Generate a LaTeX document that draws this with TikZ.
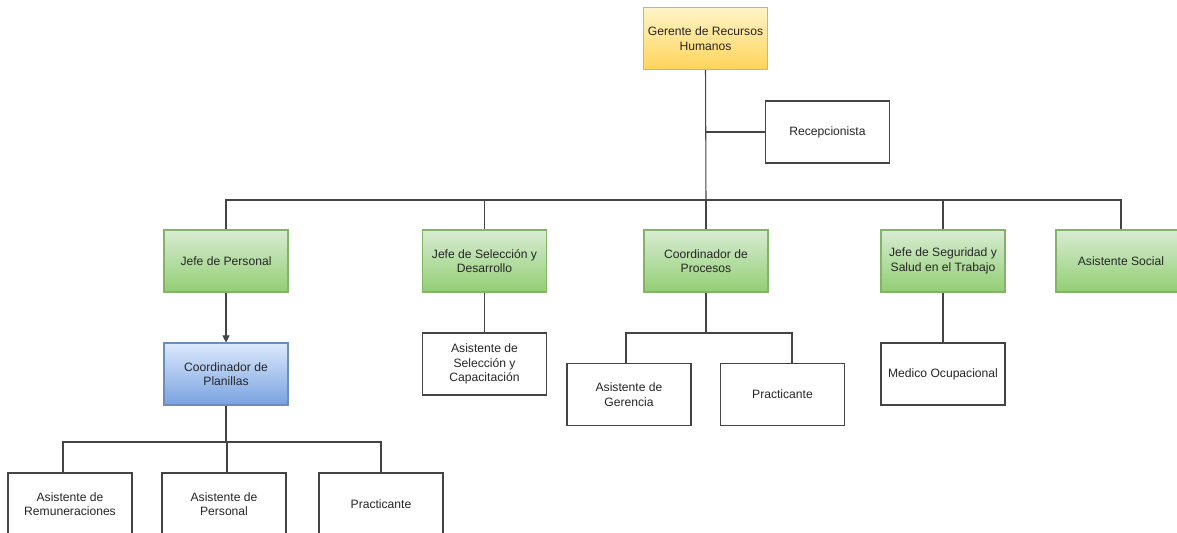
\documentclass[tikz,border=0pt]{standalone}
\usepackage{fontspec}
\setmainfont{Liberation Sans}
\usetikzlibrary{positioning,arrows.meta}
\definecolor{LineGrey}{RGB}{68,68,68}
\definecolor{GoldTop}{RGB}{255,244,200}
\definecolor{GoldBottom}{RGB}{255,212,90}
\definecolor{GoldEdge}{RGB}{214,182,86}
\definecolor{LeafTop}{RGB}{216,236,210}
\definecolor{LeafBottom}{RGB}{146,206,116}
\definecolor{LeafEdge}{RGB}{130,179,102}
\definecolor{SkyTop}{RGB}{220,233,252}
\definecolor{SkyBottom}{RGB}{120,162,224}
\definecolor{SkyEdge}{RGB}{108,142,191}
\tikzset{
  role/.style={
    draw=LineGrey, line width=.6pt,
    minimum width=2.48cm, minimum height=1.24cm,
    inner sep=1pt, align=center,
    font=\fontsize{6.9}{8.2}\selectfont, text=black!85
  },
  role gold/.style={
    role, draw=GoldEdge, top color=GoldTop, bottom color=GoldBottom
  },
  role leaf/.style={
    role, draw=LeafEdge, top color=LeafTop, bottom color=LeafBottom
  },
  role sky/.style={
    role, draw=SkyEdge, top color=SkyTop, bottom color=SkyBottom
  },
  link/.style={
    draw=LineGrey, line width=.6pt
  },
}

\begin{document}
\begin{tikzpicture}[x=0.02cm,y=-0.02cm]
  \clip (0,0) rectangle (1177,533);
  \fill[white] (0,0) rectangle (1177,533);
  % top
  \node[role gold] (ger) at (705.5,38.5) {Gerente de Recursos\\Humanos};
  \node[role] (rec) at (827.5,132) {Recepcionista};
  % heads
  \node[role leaf] (jper) at (226,261) {Jefe de Personal};
  \node[role leaf] (jsel) at (484.5,261) {Jefe de Selección y\\Desarrollo};
  \node[role leaf] (cpro) at (706,261) {Coordinador de\\Procesos};
  \node[role leaf] (jseg) at (943,261) {Jefe de Seguridad y\\Salud en el Trabajo};
  \node[role leaf, minimum width=2.6cm] (asoc) at (1121,261) {Asistente Social};
  % second level
  \node[role sky] (cpla) at (226,374) {Coordinador de\\Planillas};
  \node[role] (asel) at (484.5,364) {Asistente de\\Selección y\\Capacitación};
  \node[role] (ager) at (629,394.5) {Asistente de\\Gerencia};
  \node[role] (prac2) at (782.5,394.5) {Practicante};
  \node[role] (medo) at (943,374) {Medico Ocupacional};
  % third level
  \node[role] (arem) at (70,504) {Asistente de\\Remuneraciones};
  \node[role] (aper) at (224,504) {Asistente de\\Personal};
  \node[role] (prac1) at (381,504) {Practicante};

  % connectors
  \coordinate (hub) at (706,200);
  \coordinate (recj) at (706,132);
  \draw[link] (ger.south) -- (hub);
  \draw[link] (recj) -- (rec.west);
  \draw[link] (hub) -| (jper.north);
  \draw[link] (hub) -| (jsel.north);
  \draw[link] (hub) -- (cpro.north);
  \draw[link] (hub) -| (jseg.north);
  \draw[link] (hub) -| (asoc.north);

  \draw[link,-{Triangle[length=4pt,width=4pt]}] (jper) -- (cpla);
  \draw[link] (jsel) -- (asel);
  \draw[link] (jseg) -- (medo);

  \coordinate (hubp) at (706,333);
  \draw[link] (cpro.south) -- (hubp);
  \draw[link] (hubp) -| ([xshift=-.06cm]ager.north);
  \draw[link] (hubp) -| ([xshift=.19cm]prac2.north);

  \coordinate (hubl) at (226,442);
  \draw[link] (cpla.south) -- (hubl);
  \draw[link] (hubl) -| ([xshift=-.14cm]arem.north);
  \draw[link] (hubl) -| ([xshift=.06cm]aper.north);
  \draw[link] (hubl) -| (prac1.north);
\end{tikzpicture}
\end{document}
